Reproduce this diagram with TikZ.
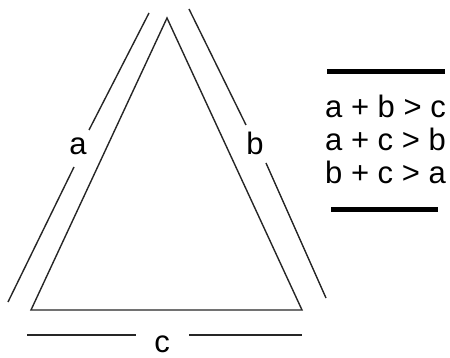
\documentclass[tikz,border=0pt]{standalone}
\usepackage{fontspec}
\setmainfont{Liberation Sans}
\usepackage{tikz}
\usetikzlibrary{positioning}

\begin{document}
\begin{tikzpicture}[x=1pt, y=-1pt,
    side/.style={line width=1.4pt, black!85},
    bar/.style={line width=5pt},
    lbl/.style={font=\fontsize{31}{33}\selectfont, inner sep=0, anchor=base},
]
    \useasboundingbox (0,0) rectangle (450,358);

    \coordinate (top) at (167,18);
    \coordinate (bl) at (31,310);
    \coordinate (br) at (302,310);
    \draw[side, line join=miter] (top) -- (bl) -- (br) -- cycle;

    % side a
    \coordinate (a1) at (149,13);
    \coordinate (a2) at (89,130);
    \coordinate (a3) at (74,167);
    \coordinate (a4) at (8,302);
    \draw[side] (a1) -- (a2);
    \draw[side] (a3) -- (a4);
    \node[lbl] (la) at (78,155) {a};

    % side b
    \coordinate (b1) at (189,9);
    \coordinate (b2) at (246,125);
    \coordinate (b3) at (266,163);
    \coordinate (b4) at (326,298);
    \draw[side] (b1) -- (b2);
    \draw[side] (b3) -- (b4);
    \node[lbl] (lb) at (255,155) {b};

    % side c
    \coordinate (c1) at (27,335);
    \coordinate (c2) at (136,335);
    \coordinate (c3) at (189,335);
    \coordinate (c4) at (302,335);
    \draw[side] (c1) -- (c2);
    \draw[side] (c3) -- (c4);
    \node[lbl] (lc) at (162,352) {c};

    % inequalities
    \coordinate (t1) at (327,72);
    \coordinate (t2) at (445,72);
    \draw[bar] (t1) -- (t2);
    \node[lbl, anchor=base west] (r1) at (325,118) {a + b > c};
    \node[lbl, anchor=base west] (r2) at (325,151) {a + c > b};
    \node[lbl, anchor=base west] (r3) at (325,184) {b + c > a};
    \coordinate (u1) at (331,210);
    \coordinate (u2) at (438,210);
    \draw[bar] (u1) -- (u2);
\end{tikzpicture}
\end{document}
